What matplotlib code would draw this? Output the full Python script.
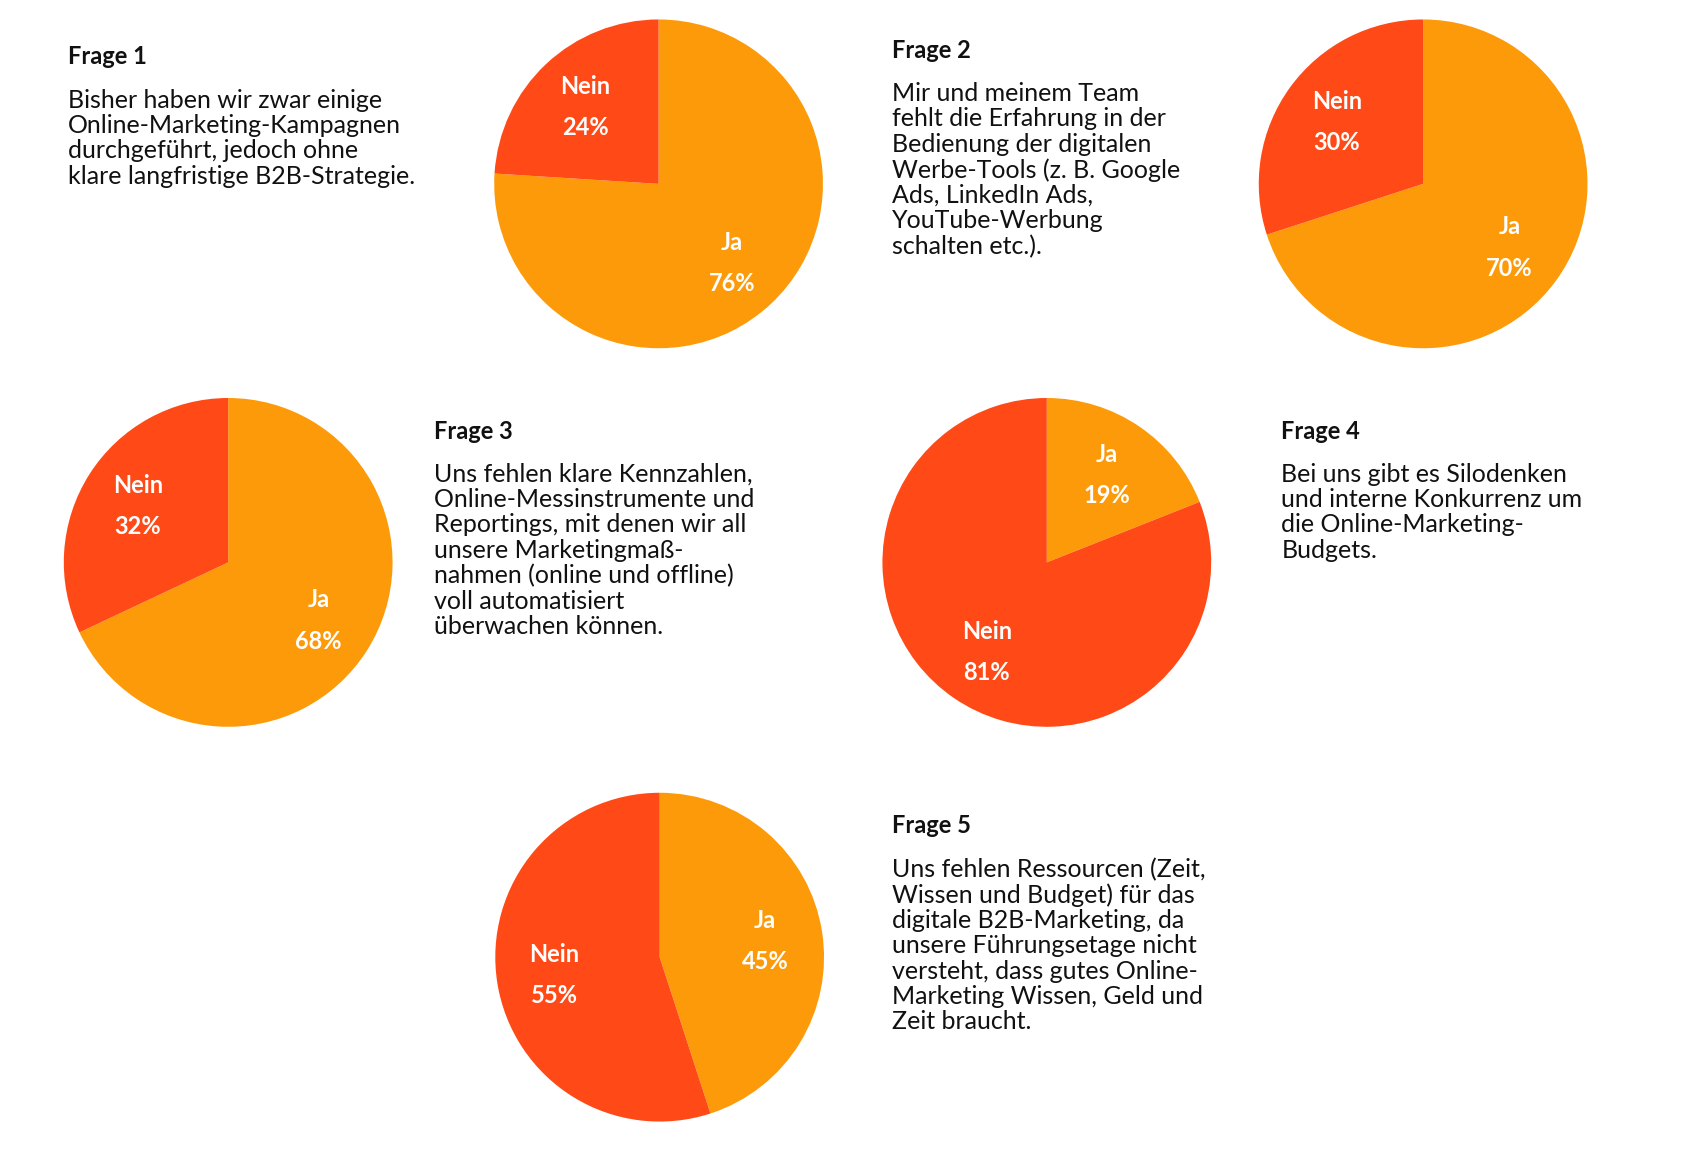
import matplotlib
matplotlib.use("Agg")
import matplotlib.pyplot as plt
import numpy as np

labels = ["Ja", "Nein"]
ja = [76, 70, 68, 19, 45]
nein = [24, 30, 32, 81, 55]
titles = ["Frage 1", "Frage 2", "Frage 3", "Frage 4", "Frage 5"]
texts = [
    "Bisher haben wir zwar einige\nOnline-Marketing-Kampagnen\ndurchgeführt, jedoch ohne\nklare langfristige B2B-Strategie.",
    "Mir und meinem Team\nfehlt die Erfahrung in der\nBedienung der digitalen\nWerbe-Tools (z. B. Google\nAds, LinkedIn Ads,\nYouTube-Werbung\nschalten etc.).",
    "Uns fehlen klare Kennzahlen,\nOnline-Messinstrumente und\nReportings, mit denen wir all\nunsere Marketingmaß-\nnahmen (online und offline)\nvoll automatisiert\nüberwachen können.",
    "Bei uns gibt es Silodenken\nund interne Konkurrenz um\ndie Online-Marketing-\nBudgets.",
    "Uns fehlen Ressourcen (Zeit,\nWissen und Budget) für das\ndigitale B2B-Marketing, da\nunsere Führungsetage nicht\nversteht, dass gutes Online-\nMarketing Wissen, Geld und\nZeit braucht.",
]
colors = ["#FD9A0A", "#FF4A17"]

W, H = 1560.0, 1067.0
centers = [(609, 170), (1316, 170), (211, 520), (968, 520), (610, 885)]
R = 152
text_pos = [(63, 42), (825, 36), (401, 388), (1185, 388), (825, 753)]

fig = plt.figure(figsize=(16.87, 11.54), dpi=100)
fig.patch.set_facecolor("white")
font = "Lato"

for i in range(5):
    cx, cy = centers[i]
    ax = fig.add_axes([(cx - R) / W, 1 - (cy + R) / H, 2 * R / W, 2 * R / H])
    vals = [ja[i], nein[i]]
    ax.pie(vals, colors=colors, startangle=90, counterclock=False, radius=1)
    ax.set_xlim(-1, 1); ax.set_ylim(-1, 1); ax.set_aspect("auto")
    ang = 90
    for lab, v in zip(labels, vals):
        mid = ang - v * 3.6 / 2
        ang -= v * 3.6
        x, y = 0.65 * np.cos(np.radians(mid)), 0.65 * np.sin(np.radians(mid))
        ax.text(x, y + 0.12, lab, ha="center", va="center", color="white",
                fontsize=17, fontweight="bold", family=font)
        ax.text(x, y - 0.13, f"{v}%", ha="center", va="center", color="white",
                fontsize=17, fontweight="bold", family=font)
    tx, ty = text_pos[i]
    fig.text(tx / W, 1 - ty / H, titles[i], ha="left", va="top", fontsize=17,
             fontweight="bold", family=font, color="#111111")
    fig.text(tx / W, 1 - (ty + 40) / H, texts[i], ha="left", va="top", fontsize=18,
             family=font, color="#111111", linespacing=1.12)

fig.savefig("out.png", dpi=100, facecolor="white")
